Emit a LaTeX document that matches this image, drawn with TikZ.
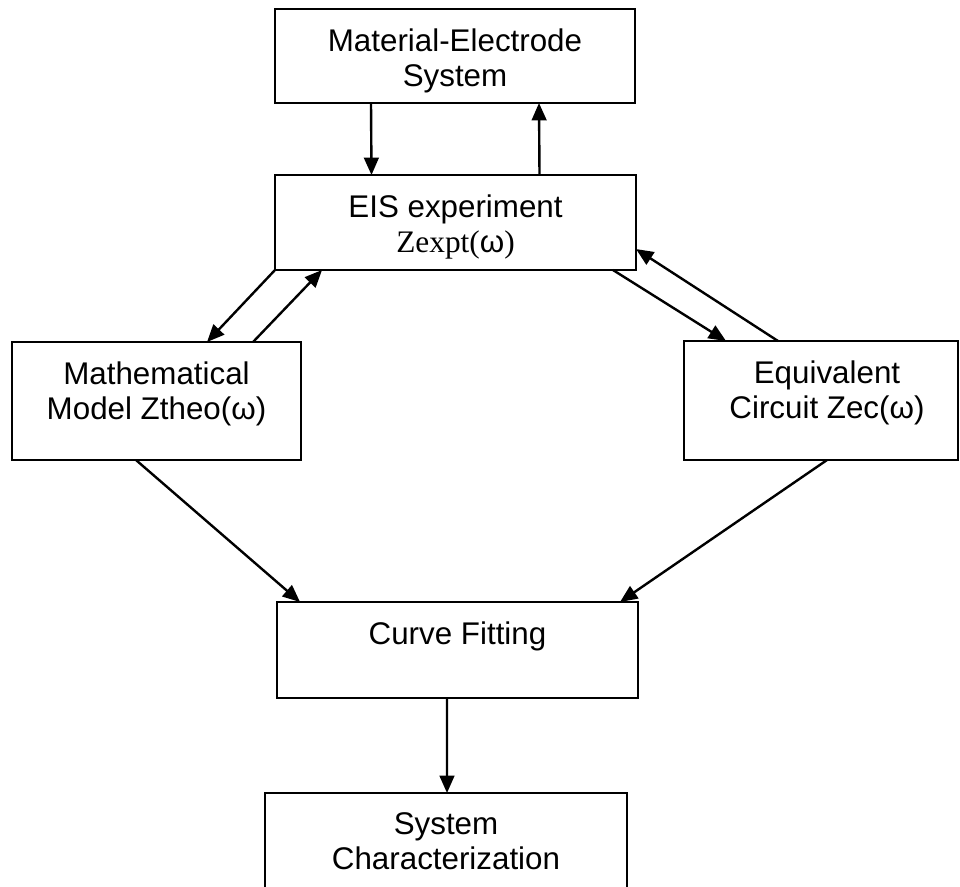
\documentclass[tikz,border=0pt]{standalone}
\usepackage{fontspec}
\setmainfont{Liberation Sans}
\newfontfamily\seriff{Liberation Serif}
\usetikzlibrary{arrows.meta}
\newcommand\boxtxt[3]{\parbox[c][#2][t]{#1}{\centering\vspace*{14.5pt}#3\par}}
\tikzset{
  box/.style={draw, line width=1.6pt, inner sep=0pt, outer sep=0pt, font=\fontsize{23.5}{26.25}\selectfont},
  arr/.style={line width=1.8pt, -{Triangle[length=13pt,width=11pt]}}
}
\begin{document}
\begin{tikzpicture}[x=0.75pt,y=-0.75pt]
\useasboundingbox (0,0) rectangle (960,886);
\clip (0,0) rectangle (960,886);
\node[box] (b1) at (455,56) {\boxtxt{270pt}{70.5pt}{Material-Electrode\\System}};
\node[box] (b2) at (455.5,222.5) {\boxtxt{270.75pt}{71.25pt}{EIS experiment\\{\seriff Zexpt(}ω{\seriff )}}};
\node[box] (b3) at (156.5,401) {\boxtxt{216.75pt}{88.5pt}{Mathematical\\Model Ztheo(ω)}};
\node[box] (b4) at (821,400.5) {\boxtxt{205.5pt}{89.25pt}{\hspace*{9pt}Equivalent\\\hspace*{9pt}Circuit Zec(ω)}};
\node[box] (b5) at (457.5,650) {\boxtxt{270.75pt}{72pt}{Curve Fitting}};
\node[box] (b6) at (446,844) {\boxtxt{271.5pt}{76.5pt}{System\\Characterization}};
% connectors
\draw[arr] ([xshift=-63pt]b1.south) -- ([xshift=-63pt]b2.north);
\draw[arr] ([xshift=63pt]b2.north) -- ([xshift=63pt]b1.south);
\draw[arr] (b2.south west) -- ([xshift=37.9pt]b3.north);
\draw[arr] ([xshift=72.4pt]b3.north) -- ([xshift=-100.1pt]b2.south);
\draw[arr] ([xshift=118.1pt]b2.south) -- ([xshift=-71.25pt]b4.north);
\draw[arr] ([xshift=-32.25pt]b4.north) -- ([yshift=-19.9pt]b2.east);
\draw[arr] ([xshift=-15.4pt]b3.south) -- ([xshift=-118.1pt]b5.north);
\draw[arr] ([xshift=4.5pt]b4.south) -- ([xshift=121.9pt]b5.north);
\draw[arr] ([xshift=-7.9pt]b5.south) -- ([xshift=0.75pt]b6.north);
\end{tikzpicture}
\end{document}
